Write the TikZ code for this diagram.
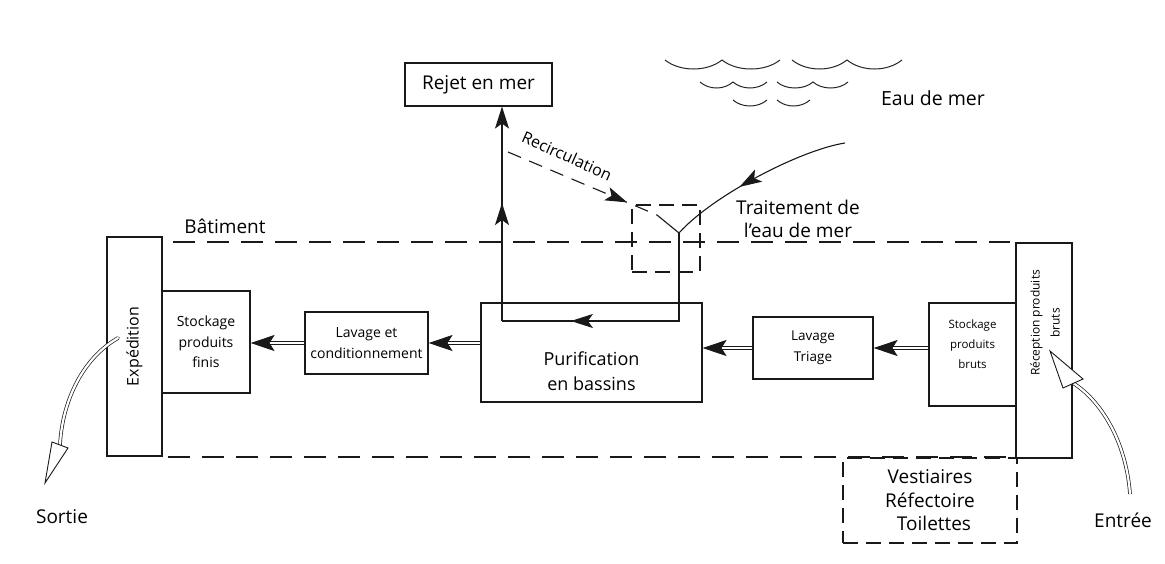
\documentclass[tikz,border=0pt]{standalone}
\usepackage{fontspec}
\setmainfont{Open Sans}
\usetikzlibrary{arrows.meta,decorations.markings,calc}
\begin{document}
\begin{tikzpicture}[x=1pt,y=-1pt,
  ink/.style={draw=black!90, line width=1.1pt},
  box/.style={ink, rectangle, inner sep=0pt, align=center},
  big/.style={font=\fontsize{19}{23}\selectfont, text=black, align=center},
  midf/.style={font=\fontsize{14}{20.5}\selectfont, text=black, align=center},
  smallf/.style={font=\fontsize{12}{20}\selectfont, text=black, align=center},
  bdash/.style={draw=black!90, line width=1.1pt, dash pattern=on 22pt off 12pt},
  tdash/.style={draw=black!90, line width=1.1pt, dash pattern=on 15pt off 8pt},
  tip/.tip={Stealth[length=22pt,width=14pt,inset=5pt]},
  flow/.style={draw=black!90, line width=1.2pt, double=white, double distance=1.4pt, -{Stealth[length=24pt,width=16pt,inset=5pt]}},
  wave/.style={draw=black!85, line width=1pt},
  midarrow/.style={postaction=decorate, decoration={markings, mark=at position #1 with {\arrow{tip}}}},
  hollow/.style={draw=black!90, line width=0.7pt, double=white, double distance=2.2pt},
  hhead/.style={draw=black!90, line width=0.9pt, fill=white, line join=miter},
]
\fill[white] (0,0) rectangle (1165,563);
\useasboundingbox (0,0) rectangle (1165,563);

% boxes
\node[box, minimum width=147pt, minimum height=43pt, big] (rejet) at (478.5,84.5) {Rejet en mer};
\node[box, rotate=90, minimum width=219pt, minimum height=55pt, font=\fontsize{16}{20}\selectfont] (exped) at (134.5,346.5) {Expédition};
\node[box, minimum width=88pt, minimum height=102pt, midf] (stockf) at (206,342) {Stockage\\produits\\finis};
\node[box, minimum width=123pt, minimum height=62pt, midf] (lavcond) at (366.5,343) {Lavage et\\conditionnement};
\node[box, minimum width=221pt, minimum height=99pt] (purif) at (591.5,352.5) {};
\node[big, font=\fontsize{18}{25}\selectfont] (purift) at (591.5,371) {Purification\\en bassins};
\node[box, minimum width=120pt, minimum height=62pt, font=\fontsize{13.5}{21}\selectfont] (lavtri) at (813,348) {Lavage\\Triage};
\node[box, minimum width=87pt, minimum height=103pt] (stockb) at (972.5,354.5) {};
\node[smallf, font=\fontsize{11.5}{20}\selectfont] (stockbt) at (972.5,344) {Stockage\\produits\\bruts};
\node[box, minimum width=56pt, minimum height=215pt] (recep) at (1044,350.5) {};
\node[smallf, rotate=90] (recept) at (1045,323) {Réception produits\\bruts};

% treatment dashed box and vestiaires
\node[tdash, rectangle, minimum width=68pt, minimum height=67pt, inner sep=0pt] (treat) at (666,238.5) {};
\node[big] (treatl) at (798,219) {Traitement de\\l'eau de mer};
\node[tdash, rectangle, minimum width=174pt, minimum height=85pt, inner sep=0pt, big, font=\fontsize{19}{23.5}\selectfont] (vest) at (930,500.5) {Vestiaires\\Réfectoire\\\hspace*{8pt}Toilettes};

% building dashed lines
\coordinate (bt1) at (173,242); \coordinate (bt2) at (1010,242);
\coordinate (bb1) at (168,457); \coordinate (bb2) at (1014,457);
\draw[bdash] (bt1) -- (bt2);
\draw[bdash] (bb1) -- (bb2);
\node[big] (bat) at (225,226) {Bâtiment};

% labels
\node[big, font=\fontsize{19.5}{23}\selectfont] (eau) at (933,98) {Eau de mer};
\node[big] (sortie) at (62,517) {Sortie};
\node[big] (entree) at (1123,520) {Entrée};
\node[font=\fontsize{16}{20}\selectfont, text=black, rotate=-24] (recirc) at (567,156) {Recirculation};

% waves
\draw[wave] (665,60) .. controls +(15,12) and +(-15,12) .. (722,60) .. controls +(15,12) and +(-15,12) .. (780,60);
\draw[wave] (792,60) .. controls +(15,12) and +(-15,12) .. (847,60) .. controls +(15,12) and +(-15,12) .. (902,60);
\draw[wave] (700,82) .. controls +(9,8) and +(-9,8) .. (733,82) .. controls +(9,8) and +(-9,8) .. (767,82);
\draw[wave] (777,82) .. controls +(9,8) and +(-9,8) .. (813,82) .. controls +(9,8) and +(-9,8) .. (848,82);
\draw[wave] (733,100) .. controls +(9,8) and +(-9,8) .. (767,100);
\draw[wave] (777,100) .. controls +(9,8) and +(-9,8) .. (810,100);

% water circuit
\coordinate (Y) at (679,233);
\coordinate (loopR) at (679,321);
\coordinate (loopL) at (502,321);
\coordinate (sea) at (845,143);
\coordinate (rc) at (508,152);
\coordinate (ya) at (657,215);
\draw[ink, midarrow=0.6] (sea) .. controls (800,150) and (712,196) .. (Y);
\draw[ink, midarrow=0.74] (Y) -- (loopR) -- (loopL);
\draw[ink, midarrow=0.55, -{tip}] (loopL) -- (rejet.south -| loopL);
\draw[ink, dash pattern=on 14pt off 9pt, midarrow=0.8] (rc) -- (ya);
\draw[ink] (ya) -- (Y);

% production flow
\draw[flow] (stockb.west |- lavtri.east) -- (lavtri.east);
\draw[flow] (lavtri.west) -- (purif.east |- lavtri.west);
\draw[flow] (purif.west |- lavcond.east) -- (lavcond.east);
\draw[flow] (lavcond.west) -- (stockf.east |- lavcond.west);

% exit
\coordinate (s0) at (118,338);
\coordinate (s1) at (60,445);
\coordinate (s2) at (45,483);
\coordinate (sa) at (52,442);
\coordinate (sb) at (68,448);
\draw[hollow, line cap=round] (s0) .. controls (80,360) and (62,405) .. (s1);
\draw[hhead] (s2) -- (sa) -- (sb) -- cycle;
% entry
\coordinate (e0) at (1130,494);
\coordinate (e1) at (1073,383);
\coordinate (e2) at (1050,351);
\coordinate (ea) at (1063,388);
\coordinate (eb) at (1083,379);
\draw[hollow] (e0) .. controls (1126,440) and (1100,400) .. (e1);
\draw[hhead] (e2) -- (ea) -- (eb) -- cycle;
\end{tikzpicture}
\end{document}
